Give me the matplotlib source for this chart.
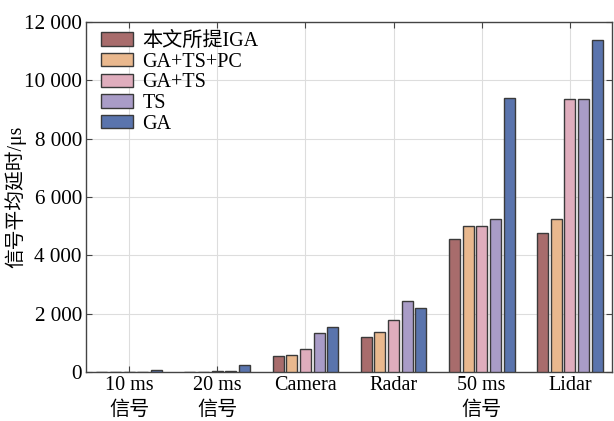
import matplotlib
matplotlib.use("Agg")
import matplotlib.pyplot as plt
import numpy as np

categories = ["10 ms\n信号", "20 ms\n信号", "Camera", "Radar", "50 ms\n信号", "Lidar"]
series_names = ["本文所提IGA", "GA+TS+PC", "GA+TS", "TS", "GA"]
iga = [20, 20, 550, 1210, 4550, 4765]
ga_ts_pc = [20, 20, 580, 1380, 5020, 5245]
ga_ts = [20, 50, 780, 1800, 5020, 9350]
ts = [20, 50, 1325, 2440, 5250, 9350]
ga = [80, 230, 1540, 2210, 9405, 11380]
yticks = [0, 2000, 4000, 6000, 8000, 10000, 12000]
ytick_labels = ["0", "2 000", "4 000", "6 000", "8 000", "10 000", "12 000"]

colors = ["#a86c6c", "#e9b88e", "#dfadbd", "#a99cc7", "#5a74ad"]

plt.rcParams['font.family'] = ['Liberation Serif', 'Noto Sans CJK SC', 'DejaVu Sans']
plt.rcParams['font.size'] = 14.5

fig = plt.figure(figsize=(6.14, 4.21), dpi=100)
ax = fig.add_axes([0.140, 0.116, 0.857, 0.832])

x = np.arange(len(categories))
w = 0.155
bw = 0.125
for i, (vals, name) in enumerate(zip([iga, ga_ts_pc, ga_ts, ts, ga], series_names)):
    ax.bar(x + (i - 2) * w, vals, width=bw, color=colors[i], edgecolor="#3a3a3a",
           linewidth=1.0, label=name, zorder=3)

ax.set_xlim(-0.49, 5.48)
ax.set_ylim(0, 12000)
ax.set_xticks(x)
ax.set_xticklabels(categories, fontsize=14.5, linespacing=1.4)
ax.set_yticks(yticks)
ax.set_yticklabels(ytick_labels, fontsize=15.2)
ax.set_ylabel("信号平均延时/μs", fontsize=14.2)
ax.yaxis.set_label_coords(-0.114, 0.5)
ax.grid(True, color="#dddddd", linewidth=0.8, zorder=0)
ax.tick_params(direction="in", top=True, right=True, length=4, color="#444444", pad=3)
for s in ax.spines.values():
    s.set_color("#444444")
    s.set_linewidth(1.0)
leg = ax.legend(loc="upper left", bbox_to_anchor=(0.0133, 0.994), frameon=False,
                handlelength=1.6, handleheight=0.65, borderaxespad=0.0,
                labelspacing=0.08, handletextpad=0.45, fontsize=14.5)

fig.savefig("out.png", dpi=100)
